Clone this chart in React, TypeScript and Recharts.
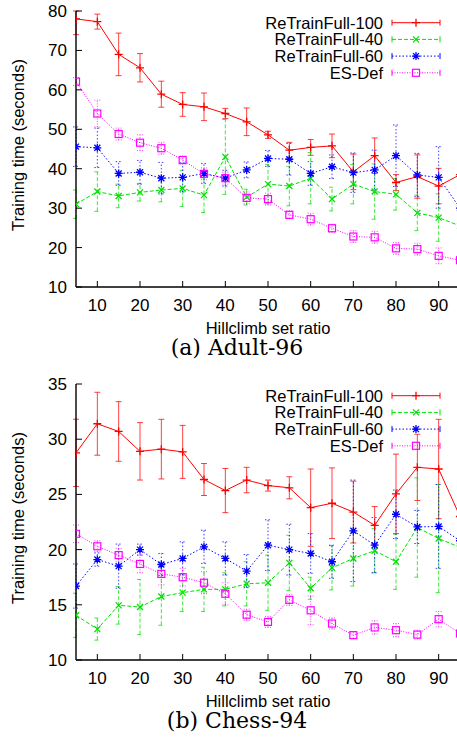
import React from "react";
import { LineChart, Line, XAxis, YAxis, ErrorBar, Legend, Label } from "recharts";

// hillclimb set ratio (x values) and the labelled ticks
const ratios = [5, 10, 15, 20, 25, 30, 35, 40, 45, 50, 55, 60, 65, 70, 75, 80, 85, 90, 95];
const ratioTicks = [10, 20, 30, 40, 50, 60, 70, 80, 90];

// (a) Adult-96
const adultTicks = [10, 20, 30, 40, 50, 60, 70, 80];
const adultFull100 = [78, 77.3, 69, 65.6, 58.9, 56.3, 55.7, 54, 51.9, 48.6, 44.7, 45.4, 45.8, 39.2, 43.3, 36.5, 38, 35.6, 38.5];
const adultFull100Err = [[4, 2], 1.9, 5.4, 3.6, 3.3, 3, 3.5, 1.3, 3.5, 0.9, 2, 2, 3, 4.5, 4.5, 2, 5.5, 4.5, 3];
const adultFull40 = [31, 34.2, 33.1, 34, 34.6, 35, 33.3, 43, 32.8, 36.1, 35.6, 37.6, 32.3, 36.1, 34.2, 33.5, 28.8, 27.6, 25.5];
const adultFull40Err = [3.6, 5, 3, 2.2, 3, 4.6, 4.4, 9.5, 2, 5, 5, 6.5, 3, 5, 7, 4, 4.5, 6, 4];
const adultFull60 = [45.6, 45.3, 38.8, 39.1, 37.6, 37.8, 38.8, 37.6, 39.7, 42.6, 42.4, 38.8, 40.5, 39, 39.7, 43.3, 38.4, 37.8, 30];
const adultFull60Err = [5, 5, 3, 3, 4, 3.7, 2.5, 2, 2, 2, 4, 3, 3, 5, 5, 7.8, 5.5, 7.8, 4];
const adultEsDef = [62.1, 54, 48.8, 46.6, 45.2, 42.2, 38.7, 37.6, 32.6, 32.3, 28.3, 27.2, 24.9, 22.8, 22.6, 19.8, 19.6, 17.9, 16.8];
const adultEsDefErr = [1, 3.4, 1.5, 2, 1.5, 1, 1.5, 1.5, 1.5, 1.5, 1, 1.5, 1, 1.5, 1.5, 1.5, 1.5, 2, 1.5];

// (b) Chess-94
const chessTicks = [10, 15, 20, 25, 30, 35];
const chessFull100 = [28.76, 31.4, 30.7, 28.9, 29.1, 28.85, 26.35, 25.35, 26.3, 25.8, 25.6, 23.8, 24.2, 23.4, 22.2, 25.05, 27.45, 27.3, 23];
const chessFull100Err = [3.05, 2.85, 2.7, 2.6, 2.7, 2.4, 1.45, 2, 1.15, 0.5, 1, 3.5, 3.2, 2.8, 1.7, 3.6, 3, 4.5, 2];
const chessFull40 = [14.05, 12.8, 14.95, 14.8, 15.75, 16.1, 16.4, 16.4, 16.9, 17, 18.8, 16.5, 18.35, 19.2, 19.9, 18.9, 22, 21, 20.2];
const chessFull40Err = [2, 1, 1.7, 2.5, 2.6, 1.7, 2, 1.5, 2, 2.5, 2.5, 1, 2, 2.5, 2, 2.5, 4.5, 4.9, 2];
const chessFull60 = [16.7, 19.1, 18.5, 20, 18.65, 19.2, 20.25, 19.2, 18.05, 20.4, 20, 19.65, 18.9, 21.7, 20.4, 23.2, 22.05, 22.1, 20.8];
const chessFull60Err = [2, 0.6, 2, 0.5, 1, 1.5, 1.5, 1.5, 1.5, 2.3, 2.3, 1.8, 1.5, 4.6, 2.5, 2.2, 1.5, 3.8, 2];
const chessEsDef = [21.43, 20.3, 19.5, 18.7, 17.8, 17.5, 17, 16, 14.1, 13.45, 15.45, 14.5, 13.3, 12.25, 12.95, 12.7, 12.3, 13.7, 12.4];
const chessEsDefErr = [0.8, 0.5, 0.6, 0.8, 1, 0.8, 1, 1, 0.5, 0.5, 0.5, 1.3, 0.5, 0.3, 0.6, 0.6, 0.4, 0.7, 0.5];

const SANS = "'Liberation Sans', Arial, sans-serif";
const SERIF = "'DejaVu Serif', serif";

type Err = number | number[];
type MarkerKind = "plus" | "cross" | "star" | "square";

const SERIES: { key: string; name: string; color: string; dash?: string; marker: MarkerKind }[] = [
  { key: "full100", name: "ReTrainFull-100", color: "#ff0000", marker: "plus" },
  { key: "full40", name: "ReTrainFull-40", color: "#00e000", dash: "4 2", marker: "cross" },
  { key: "full60", name: "ReTrainFull-60", color: "#0000ff", dash: "1.5 2", marker: "star" },
  { key: "esdef", name: "ES-Def", color: "#ff00ff", dash: "1 1.5", marker: "square" },
];

function buildRows(values: number[][], errors: Err[][]) {
  return ratios.map((r, i) => {
    const row: Record<string, any> = { ratio: r };
    SERIES.forEach((s, k) => {
      row[s.key] = values[k][i];
      row[s.key + "Err"] = errors[k][i];
    });
    return row;
  });
}

const adultRows = buildRows(
  [adultFull100, adultFull40, adultFull60, adultEsDef],
  [adultFull100Err, adultFull40Err, adultFull60Err, adultEsDefErr]
);
const chessRows = buildRows(
  [chessFull100, chessFull40, chessFull60, chessEsDef],
  [chessFull100Err, chessFull40Err, chessFull60Err, chessEsDefErr]
);

function Marker({ cx, cy, kind, color }: { cx: number; cy: number; kind: MarkerKind; color: string }) {
  if (cx == null || cy == null) return <g />;
  if (kind === "square") {
    return <rect x={cx - 3.5} y={cy - 3.5} width={7} height={7} fill="none" stroke={color} strokeWidth={1.2} />;
  }
  const plus = `M${cx - 4},${cy}H${cx + 4}M${cx},${cy - 4}V${cy + 4}`;
  const cross = `M${cx - 3},${cy - 3}L${cx + 3},${cy + 3}M${cx - 3},${cy + 3}L${cx + 3},${cy - 3}`;
  const d = kind === "plus" ? plus : kind === "cross" ? cross : plus + cross;
  return <path d={d} stroke={color} strokeWidth={1.3} fill="none" />;
}

function KeyBox() {
  return (
    <svg width={230} height={72} style={{ display: "block" }}>
      {SERIES.map((s, i) => {
        const y = 10.7 + i * 16.7;
        return (
          <g key={s.key}>
            <text x={153} y={y} dy="0.36em" textAnchor="end" fontSize={16.5} fontFamily={SANS} fill="#000">
              {s.name}
            </text>
            <line x1={162} x2={210} y1={y} y2={y} stroke={s.color} strokeDasharray={s.dash} />
            <line x1={162} x2={162} y1={y - 3} y2={y + 3} stroke={s.color} />
            <line x1={210} x2={210} y1={y - 3} y2={y + 3} stroke={s.color} />
            <Marker cx={186} cy={y} kind={s.marker} color={s.color} />
          </g>
        );
      })}
    </svg>
  );
}

const EmptyTick = () => <g />;

const XTitle = (props: any) => {
  const vb = props.viewBox;
  return (
    <text x={vb.x + vb.width / 2} y={vb.y + 41} dy="0.36em" textAnchor="middle" fontSize={16.5} fontFamily={SANS} fill="#000">
      Hillclimb set ratio
    </text>
  );
};

const YTitle = (props: any) => {
  const vb = props.viewBox;
  const cx = vb.x + 18.5;
  const cy = vb.y + vb.height / 2 - 4;
  return (
    <text x={cx} y={cy} dy="0.36em" textAnchor="middle" fontSize={16.5} fontFamily={SANS} fill="#000" transform={`rotate(-90, ${cx}, ${cy})`}>
      Training time (seconds)
    </text>
  );
};

function Panel({ rows, yDomain, yTicks, caption, top }: { rows: any[]; yDomain: number[]; yTicks: number[]; caption: string; top: number }) {
  const tickStyle = { fontSize: 17, fill: "#000", fontFamily: SANS };
  const axisLine = { stroke: "#000", strokeWidth: 1.4 };
  return (
    <div style={{ position: "absolute", left: 0, top, width: 480, height: 365 }}>
      <LineChart width={480} height={365} data={rows} margin={{ top: 11, right: 20, bottom: 0, left: 0 }}>
        <XAxis dataKey="ratio" type="number" domain={[5, 95]} ticks={ratioTicks} allowDataOverflow height={78}
          tickSize={-6} tickMargin={17.5} tick={tickStyle} axisLine={axisLine} tickLine={{ stroke: "#000" }}>
          <Label content={XTitle} />
        </XAxis>
        <XAxis xAxisId="top" orientation="top" dataKey="ratio" type="number" domain={[5, 95]} ticks={ratioTicks}
          allowDataOverflow height={0} tickSize={-6} tick={EmptyTick} axisLine={axisLine} tickLine={{ stroke: "#000" }} />
        <YAxis type="number" domain={yDomain} ticks={yTicks} allowDataOverflow width={76}
          tickSize={-6} tickMargin={15} tick={tickStyle} axisLine={axisLine} tickLine={{ stroke: "#000" }}>
          <Label content={YTitle} />
        </YAxis>
        <YAxis yAxisId="r" orientation="right" type="number" domain={yDomain} ticks={yTicks} allowDataOverflow width={0}
          tickSize={-6} tick={EmptyTick} axisLine={axisLine} tickLine={{ stroke: "#000" }} />
        <Legend content={() => <KeyBox />} layout="vertical" align="center" verticalAlign="middle"
          wrapperStyle={{ top: 12, left: 230, width: 230, height: 72 }} />
        {SERIES.map((s) => (
          <Line key={s.key} dataKey={s.key} name={s.name} type="linear" stroke={s.color} strokeWidth={1}
            strokeDasharray={s.dash} isAnimationActive={false} activeDot={false}
            dot={(p: any) => <Marker key={`${s.key}-${p.index}`} cx={p.cx} cy={p.cy} kind={s.marker} color={s.color} />}>
            <ErrorBar dataKey={s.key + "Err"} width={3} stroke={s.color} strokeWidth={1} strokeOpacity={0.75}
              strokeDasharray={s.dash} isAnimationActive={false} />
          </Line>
        ))}
      </LineChart>
      <div style={{ position: "absolute", left: 0, width: 474, top: 339, textAlign: "center", fontFamily: SERIF, fontSize: 22, lineHeight: "18px", color: "#000" }}>
        {caption}
      </div>
    </div>
  );
}

export default function App() {
  return (
    <div style={{ position: "absolute", left: 0, top: 0, width: 457, height: 738, overflow: "hidden", background: "#fff" }}>
      <Panel rows={adultRows} yDomain={[10, 80]} yTicks={adultTicks} caption="(a) Adult-96" top={0} />
      <Panel rows={chessRows} yDomain={[10, 35]} yTicks={chessTicks} caption="(b) Chess-94" top={373} />
    </div>
  );
}
